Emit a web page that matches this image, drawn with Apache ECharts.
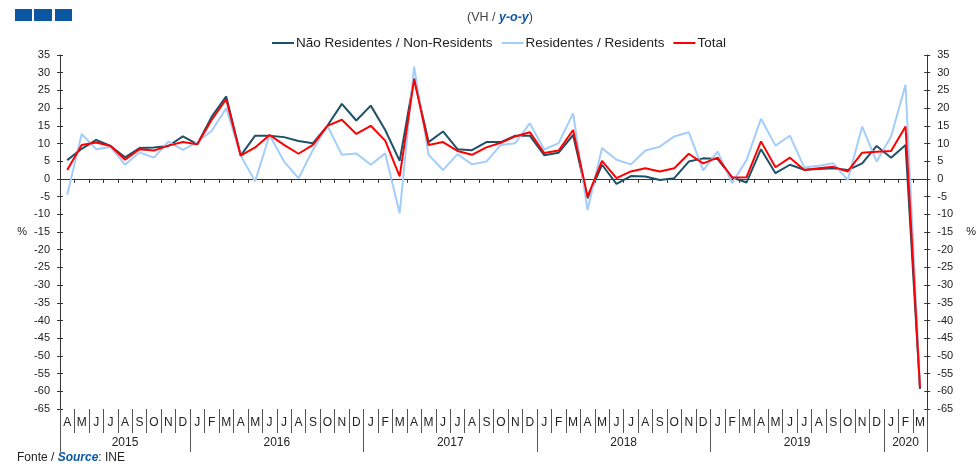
<!DOCTYPE html>
<html><head><meta charset="utf-8">
<script src="https://cdn.jsdelivr.net/npm/echarts@6/dist/echarts.min.js"></script>
<style>html,body{margin:0;padding:0;background:#fff}#c{width:979px;height:467px}</style>
</head><body><div id="c"></div>
<script>
const months = ['A','M','J','J','A','S','O','N','D',
 'J','F','M','A','M','J','J','A','S','O','N','D',
 'J','F','M','A','M','J','J','A','S','O','N','D',
 'J','F','M','A','M','J','J','A','S','O','N','D',
 'J','F','M','A','M','J','J','A','S','O','N','D',
 'J','F','M'];
const years = ['2015','2016','2017','2018','2019','2020'];
const yearStarts = [0, 9, 21, 33, 45, 57, 60];
const nonResidents = [5.3, 8.5, 11.0, 9.3, 6.1, 8.7, 8.9, 9.3, 12.0,
 9.8, 17.6, 23.3, 6.6, 12.2, 12.2, 11.8, 10.7, 10.1, 15.0, 21.2, 16.5,
 20.7, 13.8, 5.1, 28.4, 10.4, 13.4, 8.4, 8.1, 10.4, 10.4, 12.2, 12.2,
 6.7, 7.4, 12.4, -5.5, 4.0, -1.4, 0.8, 0.7, -0.3, 0.2, 4.9, 5.8,
 5.6, 0.4, -1.0, 8.4, 1.6, 4.0, 2.6, 2.8, 3.0, 2.5, 4.4, 9.3,
 6.0, 9.6, -59.3];
const residents = [-4.5, 12.7, 8.4, 9.0, 4.0, 7.5, 6.0, 10.5, 8.2,
 10.4, 13.6, 20.0, 6.6, -0.7, 12.4, 4.9, 0.2, 8.2, 15.0, 6.8, 7.2,
 4.0, 7.2, -9.7, 31.7, 6.8, 2.5, 7.0, 4.1, 4.9, 9.6, 10.1, 15.7,
 8.3, 10.1, 18.5, -8.8, 8.7, 5.4, 4.1, 8.0, 9.1, 12.0, 13.2, 2.4,
 7.7, -1.2, 5.3, 17.0, 9.4, 12.2, 3.2, 3.7, 4.4, -0.3, 14.8, 4.9,
 12.0, 26.6, -58.5];
const total = [2.5, 9.6, 10.3, 9.3, 5.4, 8.4, 8.0, 9.4, 10.4,
 9.8, 16.7, 22.5, 6.6, 8.9, 12.4, 9.6, 7.1, 9.6, 15.0, 16.7, 12.7,
 15.0, 10.8, 0.7, 28.2, 9.6, 10.4, 7.9, 6.8, 8.9, 10.2, 12.0, 13.2,
 7.3, 8.0, 13.8, -5.0, 5.1, 0.2, 2.1, 3.0, 2.1, 3.0, 7.1, 4.4,
 6.0, 0.4, 0.5, 10.6, 3.3, 6.0, 2.5, 3.0, 3.4, 2.1, 7.4, 7.7,
 7.9, 14.8, -59.1];
const seriesNames = ['Não Residentes / Non-Residents', 'Residentes / Residents', 'Total'];

const FONT = "'Liberation Sans', Arial, sans-serif";
const axisCol = '#333';
const yearMid = years.map((y, i) => (yearStarts[i] + yearStarts[i + 1]) / 2);

function yAx(pos, labels, inside) {
  return {
    type: 'value', position: pos, min: -65, max: 35, interval: 5,
    axisLine: { show: labels, lineStyle: { color: axisCol, width: 1 } },
    axisTick: { show: true, inside: inside, length: 3, lineStyle: { color: axisCol } },
    axisLabel: { show: labels, color: '#222', fontSize: 11, fontFamily: FONT, margin: labels ? 10 : 0 },
    splitLine: { show: false },
    name: labels ? '%' : '', nameLocation: 'middle', nameRotate: 0,
    nameGap: pos === 'left' ? 33 : 39,
    nameTextStyle: { color: '#222', fontSize: 11, fontFamily: FONT }
  };
}

const chart = echarts.init(document.getElementById('c'), null, { renderer: 'canvas' });
chart.setOption({
  animation: false,
  backgroundColor: '#fff',
  textStyle: { fontFamily: FONT },
  grid: { left: 60, right: 48, top: 55, bottom: 58, containLabel: false },
  legend: {
    top: 31, left: 267, itemGap: 9, itemWidth: 22, itemHeight: 2, icon: 'rect',
    textStyle: { fontSize: 13.5, color: '#222', fontFamily: FONT, padding: [0, 0, 0, -3] },
    data: seriesNames
  },
  graphic: [
    { type: 'rect', left: 15, top: 9, shape: { width: 17, height: 12 }, style: { fill: '#0b57a3' } },
    { type: 'rect', left: 34, top: 9, shape: { width: 18, height: 12 }, style: { fill: '#0b57a3' } },
    { type: 'rect', left: 55, top: 9, shape: { width: 17, height: 12 }, style: { fill: '#0b57a3' } },
    { type: 'text', left: 467, top: 11, style: {
        text: '(VH / {b|y-o-y})', fill: '#444', font: '12.5px ' + FONT,
        rich: { b: { fill: '#0b57a3', fontStyle: 'italic', fontWeight: 'bold', fontSize: 12.5, fontFamily: FONT } } } },
    { type: 'text', left: 17, top: 452, style: {
        text: 'Fonte / {b|Source}: INE', fill: '#222', font: '12px ' + FONT,
        rich: { b: { fill: '#0b57a3', fontStyle: 'italic', fontWeight: 'bold', fontSize: 12, fontFamily: FONT } } } }
  ],
  xAxis: [
    { type: 'category', data: months, position: 'bottom', boundaryGap: true,
      axisLine: { show: true, onZero: true, onZeroAxisIndex: 0, lineStyle: { color: axisCol, width: 1 } },
      axisTick: { show: true, interval: 0, length: 4, lineStyle: { color: axisCol } },
      axisLabel: { show: false }, splitLine: { show: false } },
    { type: 'category', data: months, position: 'bottom', boundaryGap: true,
      axisLine: { show: false, onZero: false },
      axisTick: { show: true, interval: 0, length: 24, lineStyle: { color: '#555' } },
      axisLabel: { show: true, interval: 0, margin: 8, fontSize: 12, color: '#222', fontFamily: FONT },
      splitLine: { show: false } },
    { type: 'value', position: 'bottom', min: 0, max: 60,
      axisLine: { show: false, onZero: false },
      axisTick: { show: true, customValues: yearStarts, length: 43, lineStyle: { color: '#555' } },
      axisLabel: { show: true, customValues: yearMid, margin: 28, fontSize: 12, color: '#222', fontFamily: FONT,
        formatter: v => { const i = yearMid.indexOf(v); return i >= 0 ? years[i] : ''; } },
      splitLine: { show: false } }
  ],
  yAxis: [ yAx('left', true, false), yAx('left', false, true), yAx('right', true, false), yAx('right', false, true) ],
  series: [
    { name: seriesNames[0], type: 'line', data: nonResidents, xAxisIndex: 0, yAxisIndex: 0,
      symbol: 'none', lineStyle: { color: '#1d5069', width: 2 }, itemStyle: { color: '#1d5069' } },
    { name: seriesNames[1], type: 'line', data: residents, xAxisIndex: 0, yAxisIndex: 0,
      symbol: 'none', lineStyle: { color: '#a3cdfb', width: 2 }, itemStyle: { color: '#a3cdfb' } },
    { name: seriesNames[2], type: 'line', data: total, xAxisIndex: 0, yAxisIndex: 0,
      symbol: 'none', lineStyle: { color: '#ff0000', width: 2 }, itemStyle: { color: '#ff0000' } }
  ]
});
</script></body></html>
